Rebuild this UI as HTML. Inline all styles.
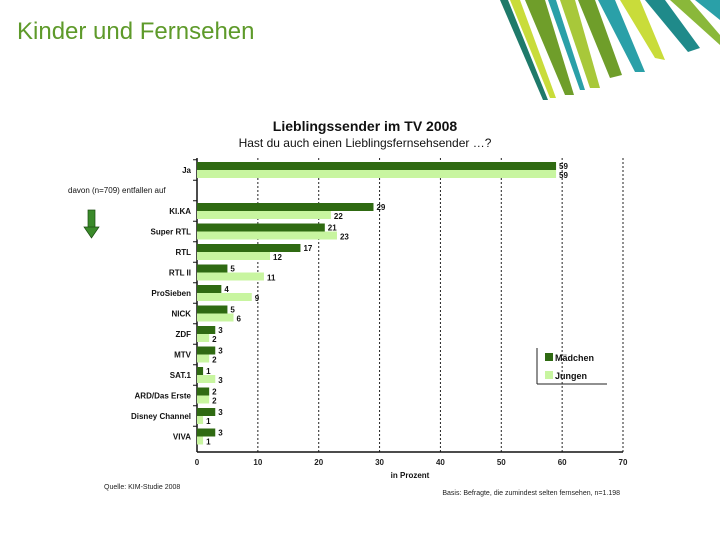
<!DOCTYPE html>
<html><head><meta charset="utf-8"><style>
html,body{margin:0;padding:0;background:#fff;}
svg{display:block;font-family:"Liberation Sans",sans-serif;}
</style></head><body>
<svg id="c" width="720" height="540" viewBox="0 0 720 540">
<g>
<polygon points="500,0 508,0 548,100 543,100" fill="#1f7a6a"/>
<polygon points="510,0 520,0 556,98 550,98" fill="#c9dc3a"/>
<polygon points="525,0 545,0 574,95 565,95" fill="#6f9e2a"/>
<polygon points="548,0 556,0 585,90 580,90" fill="#2aa0a8"/>
<polygon points="560,0 575,0 600,88 590,88" fill="#a8c83a"/>
<polygon points="578,0 595,0 622,75 610,78" fill="#6f9e2a"/>
<polygon points="598,0 615,0 645,72 635,72" fill="#2aa0a8"/>
<polygon points="620,0 640,0 665,60 655,58" fill="#c9dc3a"/>
<polygon points="645,0 665,0 700,48 688,52" fill="#1f8a8a"/>
<polygon points="670,0 690,0 720,35 720,45" fill="#8ab83a"/>
<polygon points="695,0 720,0 720,20" fill="#2aa0a8"/>
</g>
<text x="17" y="39" font-size="24" fill="#5e9a2a">Kinder und Fernsehen</text>
<text x="365" y="131" font-size="14" font-weight="bold" text-anchor="middle" fill="#111">Lieblingssender im TV 2008</text>
<text x="365" y="147" font-size="12" text-anchor="middle" fill="#111">Hast du auch einen Lieblingsfernsehsender …?</text>
<text x="68" y="193" font-size="8" fill="#111">davon  (n=709) entfallen auf</text>
<g><rect x="88" y="210" width="7" height="18" fill="#3a8a2a" stroke="#1a4a10" stroke-width="0.7"/><polygon points="84,227 99,227 91.5,238" fill="#3a8a2a" stroke="#1a4a10" stroke-width="0.7"/></g>
<g id="plot"></g>
<g>
<line x1="537" y1="348" x2="537" y2="384" stroke="#222"/><line x1="537" y1="384" x2="607" y2="384" stroke="#222"/>
<rect x="545" y="353" width="8" height="8" fill="#2f6a12"/>
<text x="555" y="361" font-size="9" font-weight="bold" fill="#111">Mädchen</text>
<rect x="545" y="371" width="8" height="8" fill="#c8f5a0"/>
<text x="555" y="379" font-size="9" font-weight="bold" fill="#111">Jungen</text>
</g>
<text x="410" y="478" font-size="8" font-weight="bold" text-anchor="middle" fill="#111">in Prozent</text>
<text x="104" y="489" font-size="7" fill="#222">Quelle: KIM-Studie 2008</text>
<text x="620" y="495" font-size="7" text-anchor="end" fill="#222">Basis: Befragte, die zumindest selten fernsehen, n=1.198</text>
</svg>
<script>
const categories=["Ja","","KI.KA","Super RTL","RTL","RTL II","ProSieben","NICK","ZDF","MTV","SAT.1","ARD/Das Erste","Disney Channel","VIVA"];
const maedchen=[59,null,29,21,17,5,4,5,3,3,1,2,3,3];
const jungen=[59,null,22,23,12,11,9,6,2,2,3,2,1,1];
const ticks=[0,10,20,30,40,50,60,70];
const NS="http://www.w3.org/2000/svg";
const g=document.getElementById('plot');
const x0=197,x1=623,yTop=158,yBot=452,first=170,step=20.5;
const xs=v=>x0+(v/70)*(x1-x0);
const yc=i=>first+i*step;
function mk(t,a){const e=document.createElementNS(NS,t);for(const k in a)e.setAttribute(k,a[k]);g.appendChild(e);return e;}
ticks.forEach(t=>{
 if(t>0){const l=mk('line',{x1:xs(t),x2:xs(t),y1:yTop,y2:yBot,stroke:'#222','stroke-dasharray':'2,2','stroke-width':1});
 
 }
 const tx=mk('text',{x:xs(t),y:yBot+13,'font-size':8,'font-weight':'bold','text-anchor':'middle',fill:'#222'});tx.textContent=t;
 
 
});
const ax=mk('line',{x1:x0,x2:x0,y1:yTop,y2:yBot,stroke:'#111','stroke-width':1.5});


const bx=mk('line',{x1:x0,x2:x1,y1:yBot,y2:yBot,stroke:'#111','stroke-width':1.5});


categories.forEach((c,i)=>{
 const y=yc(i);
 const tk=mk('line',{x1:x0-4,x2:x0,y1:y-step/2,y2:y-step/2,stroke:'#111'});
 
 
 if(c){const t=mk('text',{x:x0-6,y:y+3,'font-size':8,'font-weight':'bold','text-anchor':'end',fill:'#111'});t.textContent=c;
 
 }
 if(maedchen[i]!=null){
  const r=mk('rect',{x:x0,y:y-8,width:xs(maedchen[i])-x0,height:8,fill:'#2f6a12'});
  
  
  const l=mk('text',{x:xs(maedchen[i])+3,y:y-1,'font-size':8,'font-weight':'bold',fill:'#111'});l.textContent=maedchen[i];
  
  
 }
 if(jungen[i]!=null){
  const r=mk('rect',{x:x0,y:y,width:xs(jungen[i])-x0,height:8,fill:'#c8f5a0'});
  
  
  const l=mk('text',{x:xs(jungen[i])+3,y:y+8,'font-size':8,'font-weight':'bold',fill:'#111'});l.textContent=jungen[i];
  
  
 }
});
</script>
</body></html>
